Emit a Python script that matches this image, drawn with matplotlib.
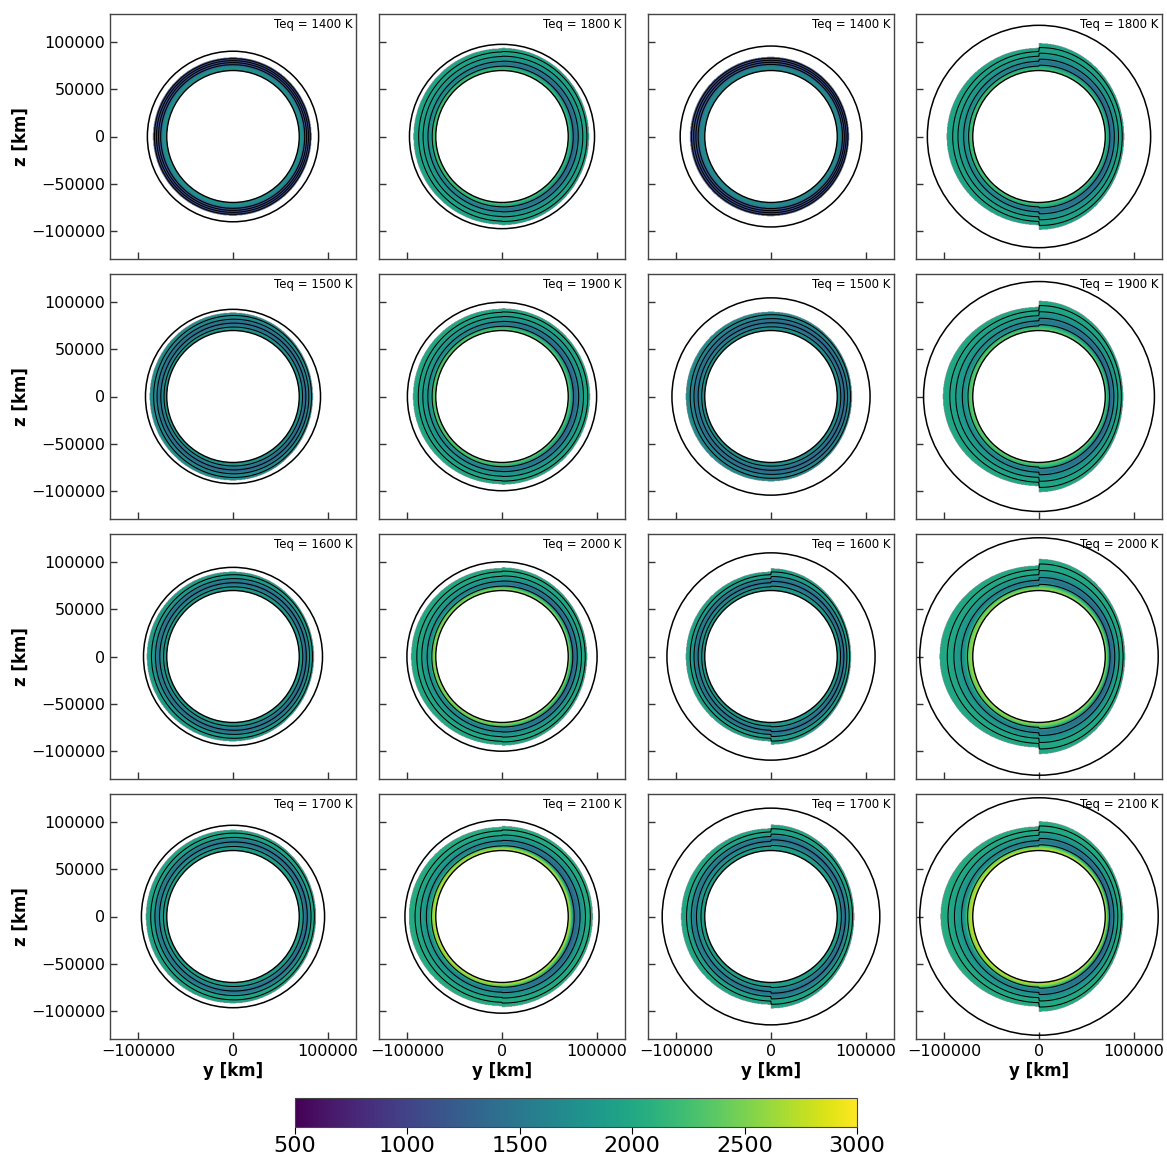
import numpy as np
import matplotlib
matplotlib.use("Agg")
import matplotlib.pyplot as plt
from matplotlib.patches import Circle

# ---------------- data ----------------
teq = [[1400, 1800, 1400, 1800],
       [1500, 1900, 1500, 1900],
       [1600, 2000, 1600, 2000],
       [1700, 2100, 1700, 2100]]

r_planet = 70000.0

# outer (black) circle radius per panel [km]
r_outer = [[90500, 97800, 96000, 118000],
           [92500, 100000, 104700, 122000],
           [94600, 100500, 110000, 126000],
           [96800, 102600, 115000, 126000]]

# atmosphere edge: day half (y>0) horizontal / vertical semi-axes
edge_day_h = [[83000, 92000, 82500, 90000],
              [84500, 93000, 85600, 89000],
              [85600, 90000, 84600, 91000],
              [87800, 96000, 88000, 89000]]
edge_day_v = [[84000, 94000, 84500, 99000],
              [89000, 93500, 90000, 101500],
              [90000, 94500, 93500, 103500],
              [92000, 96000, 97500, 101000]]
# night half (y<0)
edge_night_h = [[84500, 93500, 85600, 97500],
                [88000, 94000, 90000, 101500],
                [91000, 96000, 90000, 105000],
                [92000, 98400, 95000, 104000]]
edge_night_v = [[84000, 93500, 84500, 94000],
                [89000, 93000, 90000, 95000],
                [90000, 93800, 90000, 96500],
                [92000, 95000, 93500, 95500]]

# normalized height through the atmosphere where temperatures are read
s_knots = [0.0, 0.1, 0.2, 0.3, 0.45, 0.7, 1.0]

# temperature [K] at s_knots, rows = Teq rows
temp_day_col1 = [[1750, 1750, 1750, 1700, 1150, 1100, 1100],
                 [1800, 1800, 1750, 1500, 1250, 1700, 1700],
                 [1850, 1850, 1800, 1550, 1250, 1850, 1850],
                 [1900, 1900, 1850, 1550, 1250, 1950, 1950]]
temp_night_col1 = [[1750, 1750, 1750, 1700, 1150, 1100, 1100],
                   [1800, 1800, 1750, 1550, 1400, 1700, 1700],
                   [1850, 1850, 1800, 1650, 1450, 1850, 1900],
                   [1900, 1900, 1850, 1700, 1500, 1950, 1950]]
temp_day_col2 = [[2250, 2100, 1650, 1250, 1600, 1950, 1950],
                 [2400, 2200, 1700, 1250, 1600, 1950, 2000],
                 [2600, 2400, 1700, 1250, 1600, 2000, 2000],
                 [2750, 2550, 1750, 1250, 1600, 2000, 2050]]
temp_night_col2 = [[2300, 2200, 1900, 1650, 1850, 1950, 1950],
                   [2450, 2300, 1950, 1700, 1850, 1950, 2000],
                   [2650, 2500, 2000, 1700, 1850, 2000, 2000],
                   [2800, 2650, 2100, 1700, 1850, 2000, 2050]]
temp_day_col3 = [[1700, 1700, 1700, 1650, 1150, 1100, 1100],
                 [1750, 1750, 1700, 1500, 1250, 1600, 1650],
                 [1850, 1850, 1800, 1550, 1250, 1850, 1900],
                 [1900, 1900, 1850, 1550, 1250, 1950, 1950]]
temp_night_col3 = [[1700, 1700, 1700, 1650, 1150, 1100, 1100],
                   [1750, 1750, 1700, 1550, 1400, 1650, 1700],
                   [1850, 1850, 1800, 1650, 1450, 1900, 1950],
                   [1900, 1900, 1850, 1700, 1500, 1950, 2000]]
temp_day_col4 = [[2300, 2100, 1650, 1250, 1600, 1950, 1950],
                 [2450, 2200, 1700, 1250, 1600, 1950, 2000],
                 [2600, 2400, 1700, 1250, 1600, 2000, 2000],
                 [2750, 2550, 1750, 1250, 1600, 2000, 2050]]
temp_night_col4 = [[2300, 2200, 1900, 1650, 1850, 1950, 1950],
                   [2450, 2300, 1950, 1700, 1850, 1950, 2000],
                   [2650, 2500, 2050, 1700, 1850, 2000, 2000],
                   [2800, 2650, 2150, 1700, 1850, 2000, 2050]]

# black contour positions (fraction of atmosphere depth)
lines_day = [0.24, 0.48, 0.70, 0.90]
lines_night = [0.16, 0.35, 0.57, 0.77]
lines_cool = [0.45, 0.60, 0.75, 0.90]
cool_panels = [(0, 0), (0, 2)]

y_ticks = [-100000, -50000, 0, 50000, 100000]
x_ticks = [-100000, 0, 100000]
cbar_ticks = [500, 1000, 1500, 2000, 2500, 3000]
t_min, t_max = 500, 3000
lim = 130000

temp_day = [temp_day_col1, temp_day_col2, temp_day_col3, temp_day_col4]
temp_night = [temp_night_col1, temp_night_col2, temp_night_col3, temp_night_col4]

# ---------------- figure ----------------
W, H = 1167, 1160
fig = plt.figure(figsize=(W / 100, H / 100), dpi=100)

col_left = [110, 379, 648, 916]
row_top = [14, 274, 534, 794]
pw, ph = 246, 245

N = 520
g = np.linspace(-lim, lim, N)
Yg, Zg = np.meshgrid(g, g)
Rg = np.hypot(Yg, Zg)
Rs = np.maximum(Rg, 1.0)
ct = Yg / Rs
st = Zg / Rs
day = Yg >= 0
w = 0.5 * (1 + ct)


def ellipse_r(a, b):
    return 1.0 / np.sqrt((ct / a) ** 2 + (st / b) ** 2)


im = None
for i in range(4):
    for j in range(4):
        ax = fig.add_axes([col_left[j] / W, 1 - (row_top[i] + ph) / H, pw / W, ph / H])
        r_edge = np.where(day,
                          ellipse_r(edge_day_h[i][j], edge_day_v[i][j]),
                          ellipse_r(edge_night_h[i][j], edge_night_v[i][j]))
        s = (Rg - r_planet) / (r_edge - r_planet)
        outside = (s < 0) | (s > 1)
        td = np.interp(s, s_knots, temp_day[j][i])
        tn = np.interp(s, s_knots, temp_night[j][i])
        T = w * td + (1 - w) * tn
        im = ax.imshow(np.ma.masked_where(outside, T), extent=[-lim, lim, -lim, lim],
                       origin='lower', cmap='viridis', vmin=t_min, vmax=t_max,
                       interpolation='bilinear', aspect='auto')
        # contour index field, blended smoothly from night to day side
        if (i, j) in cool_panels:
            ld, ln = lines_cool, lines_cool
        else:
            ld, ln = lines_day, lines_night
        idx = np.arange(len(ld) + 2)
        q = w * np.interp(s, [0] + ld + [1], idx) + (1 - w) * np.interp(s, [0] + ln + [1], idx)
        q = np.where(Rg < r_planet * 0.98, -1.0, q)
        q = np.where(s > 1.0, len(ld) + 3.0, q)
        ax.contour(Yg, Zg, q, levels=list(idx[1:-1]), colors='k', linewidths=0.75)
        ax.add_patch(Circle((0, 0), r_planet, facecolor='white', edgecolor='black', lw=1.0, zorder=3))
        ax.add_patch(Circle((0, 0), r_outer[i][j], fill=False, edgecolor='black', lw=1.1, zorder=3))
        ax.set_xlim(-lim, lim)
        ax.set_ylim(-lim, lim)
        ax.set_xticks(x_ticks)
        ax.set_yticks(y_ticks)
        ax.tick_params(direction='in', length=5, width=1, labelsize=11.5, color='#333333')
        for sp in ax.spines.values():
            sp.set_color('#444444')
            sp.set_linewidth(1.0)
        if j != 0:
            ax.set_yticklabels([])
        else:
            ax.set_ylabel('z [km]', fontsize=12, fontweight='bold', labelpad=1)
        if i != 3:
            ax.set_xticklabels([])
        else:
            ax.set_xlabel('y [km]', fontsize=12, fontweight='bold', labelpad=2)
        ax.text(0.985, 0.985, f"Teq = {teq[i][j]} K", transform=ax.transAxes,
                ha='right', va='top', fontsize=8.5)

cax = fig.add_axes([295 / W, 1 - 1127 / H, (857 - 295) / W, 29 / H])
cb = fig.colorbar(im, cax=cax, orientation='horizontal', ticks=cbar_ticks)
cb.ax.tick_params(labelsize=16, length=5, pad=1.5)
cb.outline.set_edgecolor('#444444')

fig.savefig('out.png', dpi=100)
